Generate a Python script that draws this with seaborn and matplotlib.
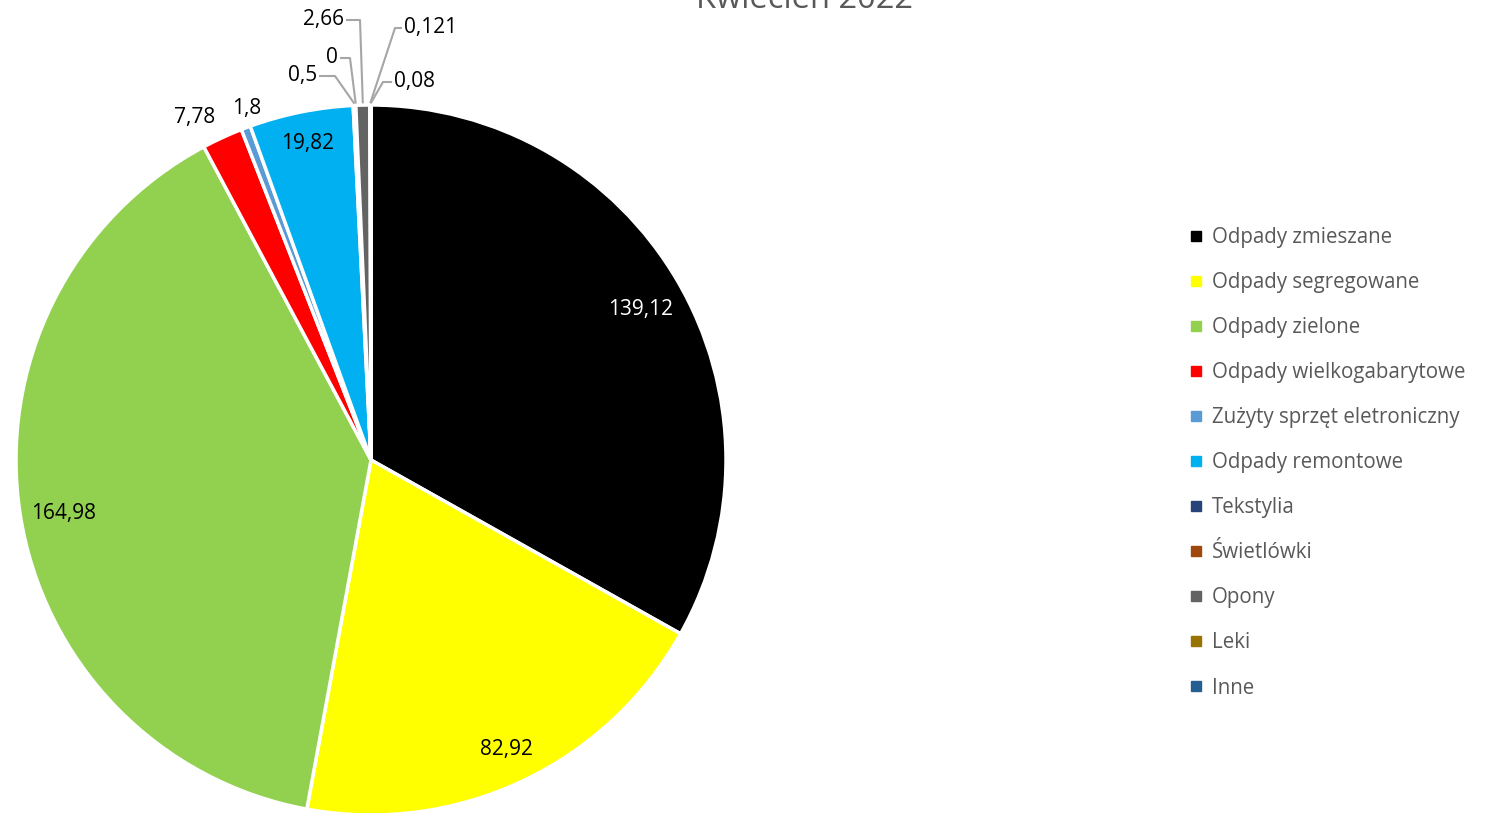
import matplotlib
matplotlib.use("Agg")
import matplotlib.pyplot as plt
from matplotlib.lines import Line2D
import numpy as np
import seaborn as sns

categories = ["Odpady zmieszane", "Odpady segregowane", "Odpady zielone",
              "Odpady wielkogabarytowe", "Zużyty sprzęt eletroniczny",
              "Odpady remontowe", "Tekstylia", "Świetlówki", "Opony", "Leki", "Inne"]
values = [139.12, 82.92, 164.98, 7.78, 1.8, 19.82, 0.5, 0, 2.66, 0.121, 0.08]
value_labels = ["139,12", "82,92", "164,98", "7,78", "1,8", "19,82", "0,5", "0", "2,66", "0,121", "0,08"]
colors = ["#000000", "#FFFF00", "#92D050", "#FF0000", "#5B9BD5", "#00B0F0",
          "#264478", "#9E480E", "#636363", "#997300", "#255E91"]
title = "Kwiecień 2022"

sns.set_theme(style="white")
plt.rcParams['font.family'] = ['Open Sans', 'DejaVu Sans']

W, H = 1495, 813
fig = plt.figure(figsize=(W / 100, H / 100), dpi=100)
cx, cy, R = 371, 460, 355
ax = fig.add_axes([(cx - R) / W, (H - (cy + R)) / H, 2 * R / W, 2 * R / H])

wedges, _ = ax.pie(values, colors=colors, startangle=90, counterclock=False, radius=1,
                   wedgeprops=dict(edgecolor="white", linewidth=2.5))
ax.set_xlim(-1, 1)
ax.set_ylim(-1, 1)
ax.set_aspect("equal")
ax.axis("off")
for w in wedges:
    w.set_clip_on(False)

def px2d(px, py):
    return (px - cx) / R, (cy - py) / R

fs = 15
# inside / near labels: (distance, angle shift in degrees, colour)
inside = {0: (0.87, -1.2, "white"), 1: (0.9, 0, "black"), 2: (0.88, 1.0, "black"),
          5: (0.91, 0, "black"), 3: (1.085, 2.5, "black"), 4: (1.05, -1.2, "black")}
for i, (dist, shift, col) in inside.items():
    w = wedges[i]
    ang = np.deg2rad((w.theta1 + w.theta2) / 2 + shift)
    ax.text(dist * np.cos(ang), dist * np.sin(ang), value_labels[i], ha="center", va="center",
            fontsize=fs, color=col, clip_on=False)

# leader-line labels for tiny slices: (line start px, elbow px, ha)
leaders = {6: ((319, 76), (335, 76), "right"),
           7: ((340, 58), (350, 58), "right"),
           8: ((346, 20), (360, 20), "right"),
           9: ((402, 28), (395, 28), "left"),
           10: ((392, 82), (383, 82), "left")}
for i, (start, elbow, ha) in leaders.items():
    w = wedges[i]
    ang = np.deg2rad((w.theta1 + w.theta2) / 2)
    sx, sy = 1.005 * np.cos(ang), 1.005 * np.sin(ang)
    p0 = px2d(*start)
    p1 = px2d(*elbow)
    ax.plot([p0[0], p1[0], sx], [p0[1], p1[1], sy], color="#A6A6A6", lw=1.5,
            clip_on=False, solid_capstyle="butt")
    off = -0.006 if ha == "right" else 0.006
    ax.text(p0[0] + off, p0[1], value_labels[i], ha=ha, va="center", fontsize=fs,
            color="black", clip_on=False)

fig.text(805 / W, (H - 8) / H, title, ha="center", va="baseline", fontsize=23.5, color="#595959")

handles = [Line2D([0], [0], marker="s", color="none", markerfacecolor=c, markeredgecolor=c,
                  markersize=6.5) for c in colors]
fig.legend(handles, categories, loc="upper left", bbox_to_anchor=(1188 / W, (H - 227) / H),
           frameon=False, fontsize=14.8, labelcolor="#595959", handlelength=0.8,
           handletextpad=0.35, labelspacing=1.17, borderpad=0, borderaxespad=0)

fig.savefig("out.png", dpi=100)
